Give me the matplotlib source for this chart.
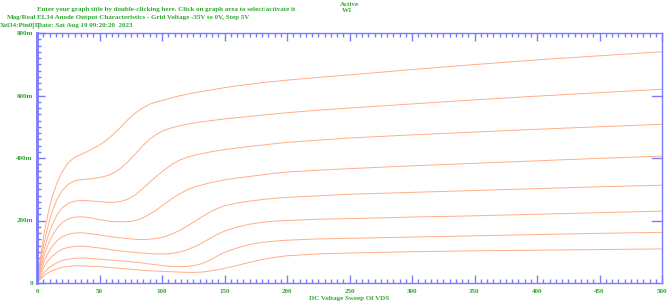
import matplotlib.pyplot as plt
from matplotlib.ticker import MultipleLocator, FixedLocator

# anode voltage sweep points (V)
vds = [0, 2, 4, 6, 9, 12, 16, 20, 25, 30, 36, 42, 48, 54, 60, 66, 72, 78, 84,
       90, 96, 102, 108, 114, 120, 126, 132, 138, 144, 150, 160, 170, 180,
       190, 200, 225, 250, 300, 350, 400, 450, 500]

# anode current (mA) per grid voltage, 0V down to -35V
ia_0v = [0, 60, 115, 165, 225, 275, 320, 355, 385, 402, 413, 424, 437, 452,
         472, 495, 520, 542, 559, 572, 580, 586, 593, 599, 604, 609, 613, 617,
         621, 625, 631, 636, 641, 645, 649, 658, 666, 683, 699, 714, 727, 740]
ia_m5v = [0, 50, 95, 135, 185, 228, 268, 295, 316, 327, 331, 333, 336, 341,
          349, 364, 385, 410, 437, 460, 477, 489, 497, 503, 508, 512, 516, 519,
          522, 525, 529, 533, 537, 541, 545, 553, 560, 573, 586, 598, 609, 620]
ia_m10v = [0, 40, 78, 112, 152, 185, 218, 240, 255, 262, 264, 263, 261, 259,
           258, 260, 267, 280, 300, 322, 343, 362, 380, 393, 402, 409, 414,
           419, 423, 427, 432, 437, 441, 446, 450, 457, 464, 474, 483, 492,
           500, 508]
ia_m15v = [0, 33, 64, 92, 124, 150, 175, 193, 205, 211, 212, 209, 204, 200,
           197, 196, 196, 199, 207, 220, 235, 253, 270, 285, 298, 307, 314,
           320, 325, 330, 336, 341, 346, 351, 355, 361, 366, 375, 383, 391,
           399, 406]
ia_m20v = [0, 26, 50, 72, 97, 116, 135, 148, 156, 160, 161, 158, 155, 151,
           148, 145, 142, 140, 139, 140, 143, 148, 157, 168, 182, 197, 212,
           226, 238, 247, 256, 262, 267, 271, 274, 279, 284, 290, 296, 302,
           308, 313]
ia_m25v = [0, 20, 38, 55, 72, 85, 98, 108, 114, 117, 118, 116, 113, 110, 106,
           103, 100, 98, 96, 94, 93, 93, 95, 99, 106, 116, 128, 142, 155, 166,
           179, 188, 194, 198, 200, 204, 206, 211, 215, 220, 225, 230]
ia_m30v = [0, 13, 25, 36, 47, 56, 65, 72, 76, 79, 80, 79, 77, 75, 73, 71, 69,
           67, 64, 61, 58, 55, 53, 52, 53, 56, 62, 73, 86, 98, 112, 123, 130,
           134, 137, 141, 143, 147, 151, 155, 159, 162]
ia_m35v = [0, 9, 17, 25, 33, 39, 45, 50, 53, 55, 55, 54, 53, 51, 49, 47, 45,
           43, 41, 39, 38, 37, 36, 35, 34, 34, 35, 38, 42, 47, 56, 66, 75, 82,
           87, 93, 96, 100, 103, 105, 107, 109]

curves = [ia_0v, ia_m5v, ia_m10v, ia_m15v, ia_m20v, ia_m25v, ia_m30v, ia_m35v]

y_ticks = [0, 200, 400, 600, 800]
y_labels = ['0', '200m', '400m', '600m', '800m']

green = '#2fa82f'
blue = '#7b7bff'
orange = '#ffae85'
font = ['Liberation Serif', 'DejaVu Serif']

fig = plt.figure(figsize=(6.69, 3.02), dpi=100)
ax = fig.add_axes([37 / 669, 19 / 302, 625 / 669, 250 / 302])

for ia in curves:
    ax.plot(vds, ia, color=orange, linewidth=0.7)

ax.set_xlim(0, 500)
ax.set_ylim(0, 800)

for side in ['left', 'right', 'top', 'bottom']:
    ax.spines[side].set_color(blue)
    ax.spines[side].set_linewidth(1.0)
ax.spines['left'].set_linewidth(2.0)

ax.xaxis.set_major_locator(MultipleLocator(50))
ax.xaxis.set_minor_locator(MultipleLocator(5))
ax.yaxis.set_major_locator(FixedLocator(y_ticks))
ax.yaxis.set_minor_locator(MultipleLocator(20))
ax.set_yticklabels(y_labels)

ax.tick_params(which='both', direction='in', colors=blue, top=True,
               bottom=True, left=True, right=False, width=1)
ax.tick_params(which='major', length=6)
ax.tick_params(which='minor', length=3)
ax.tick_params(axis='both', labelcolor=green, labelsize=5, pad=3)
ax.tick_params(axis='x', pad=4)
for lab in ax.get_xticklabels() + ax.get_yticklabels():
    lab.set_fontfamily(font)
    lab.set_fontweight('bold')

# right side only carries three inward marks
for yv in y_ticks[1:4]:
    ax.plot([492, 500], [yv, yv], color=blue, linewidth=1, clip_on=False)

ax.set_xlabel('DC Voltage Sweep Of VDS', color=green, fontsize=5,
              fontweight='bold', family=font, labelpad=2)

txt = dict(color=green, fontsize=5, fontweight='bold', family=font)
fig.text(37 / 669, 1 - 9 / 302,
         'Enter your graph title by double-clicking here. Click on graph area to select/activate it',
         va='center', **txt)
fig.text(37 / 669, 1 - 17 / 302,
         'EL34 Anode Output Characteristics - Grid Voltage -35V to 0V, Step 5V',
         va='center', **txt)
fig.text(37 / 669, 1 - 25 / 302, 'Date: Sat Aug 19 09:20:20  2023',
         va='center', **txt)
fig.text(36 / 669, 1 - 17 / 302, 'Mag/Real', ha='right', va='center', **txt)
fig.text(0, 1 - 25 / 302, 'Xel34:Pin0[I]', ha='left', va='center', **txt)
fig.text(350 / 669, 1 - 4 / 302, 'Active', ha='center', va='center', **txt)
fig.text(347 / 669, 1 - 11 / 302, 'W1', ha='center', va='center', **txt)

fig.savefig('out.png', dpi=100, facecolor='white')
